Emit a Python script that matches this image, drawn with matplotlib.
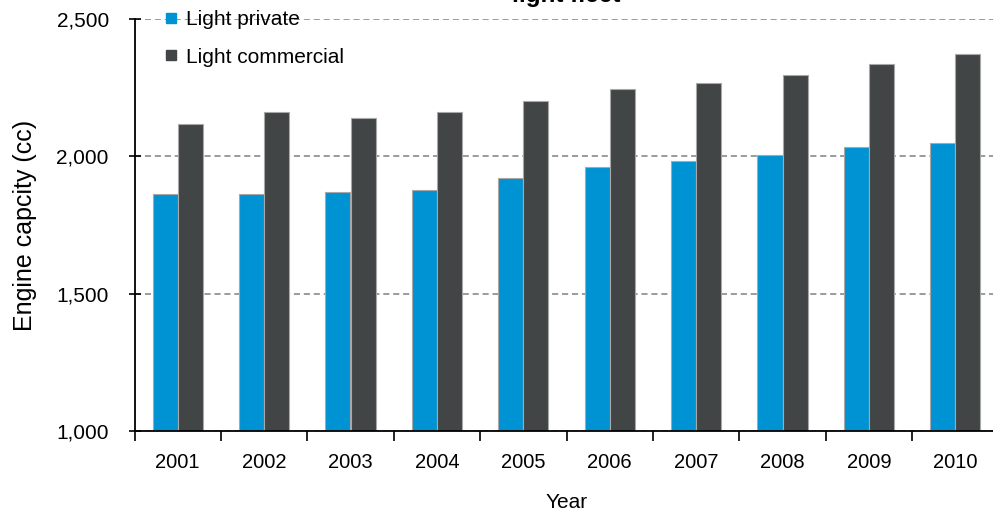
import matplotlib
matplotlib.use("Agg")
import matplotlib.pyplot as plt
from matplotlib.lines import Line2D
from matplotlib.ticker import FuncFormatter, FixedLocator
import numpy as np

years = ["2001", "2002", "2003", "2004", "2005", "2006", "2007", "2008", "2009", "2010"]
light_private = [1863, 1863, 1870, 1877, 1920, 1962, 1983, 2005, 2034, 2047]
light_commercial = [2118, 2160, 2138, 2160, 2201, 2245, 2267, 2296, 2336, 2371]
series_names = ["Light private", "Light commercial"]
y_ticks = [1000, 1500, 2000, 2500]

BLUE = "#0093D4"
DARK = "#424546"
EDGE = "#A8A8A8"

plt.rcParams["font.family"] = ["Liberation Sans", "DejaVu Sans"]

W, H = 993, 516
fig = plt.figure(figsize=(W / 100, H / 100), dpi=100)
left_px, right_px, top_px, bottom_px = 134.5, 998.5, 19, 431
ax = fig.add_axes([left_px / W, 1 - bottom_px / H,
                   (right_px - left_px) / W, (bottom_px - top_px) / H])

x = np.arange(len(years))
bw = 0.29
ax.bar(x - bw / 2, light_private, width=bw, color=BLUE, edgecolor=EDGE,
       linewidth=0.8, zorder=3)
ax.bar(x + bw / 2, light_commercial, width=bw, color=DARK, edgecolor=EDGE,
       linewidth=0.8, zorder=3)

ax.set_xlim(-0.5, len(years) - 0.5)
ax.set_ylim(1000, 2500)

ax.yaxis.set_major_locator(FixedLocator(y_ticks))
ax.yaxis.set_major_formatter(FuncFormatter(lambda v, p: f"{int(v):,}"))
ax.grid(axis="y", color="#808080", linestyle=(0, (4, 2.5)), linewidth=1.1, zorder=1)

ax.set_xticks(x)
ax.set_xticklabels(years)
ax.set_xticks(np.arange(-0.5, len(years), 1.0), minor=True)
ax.tick_params(axis="x", which="major", length=0, pad=16, labelsize=14.5)
ax.tick_params(axis="x", which="minor", length=7, width=1.2, direction="out")
ax.tick_params(axis="y", which="major", length=9, width=1.2, direction="inout",
               pad=14, labelsize=15)

for s in ("top", "right"):
    ax.spines[s].set_visible(False)
for s in ("left", "bottom"):
    ax.spines[s].set_linewidth(1.3)
    ax.spines[s].set_zorder(4)

ax.set_xlabel("Year", fontsize=15, labelpad=15)
ax.set_ylabel("Engine capcity (cc)", fontsize=18, labelpad=14)

handles = [Line2D([], [], marker="s", linestyle="none", markersize=6.5,
                  markerfacecolor=c, markeredgecolor=c) for c in (BLUE, DARK)]
ax.legend(handles, series_names, loc="upper left", frameon=False,
          bbox_to_anchor=(166 / W, 1 - 10 / H), bbox_transform=fig.transFigure,
          fontsize=15, handlelength=0.45, handletextpad=0.5, labelspacing=0.9,
          borderpad=0, borderaxespad=0)

fig.text(0.5 * (left_px + right_px) / W, 1 - 2 / H, "light fleet",
         ha="center", va="baseline", fontsize=17.5, fontweight="bold")

fig.savefig("out.png", dpi=100)
